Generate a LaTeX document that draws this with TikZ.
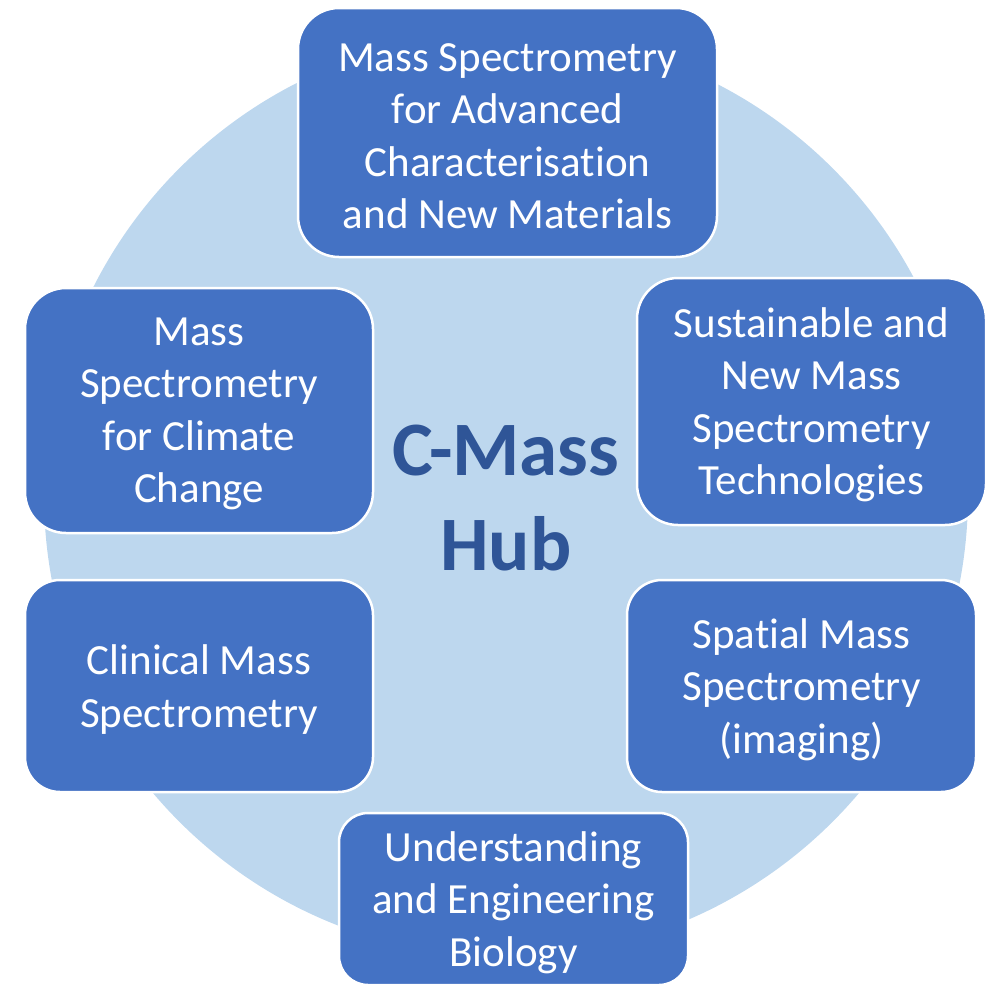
\documentclass[tikz,border=0pt]{standalone}
\usepackage{fontspec}
\setmainfont{Carlito}[Ligatures=NoCommon]
\usepackage{tikz}
\usetikzlibrary{backgrounds,%
                positioning,%
                shapes.misc,%
                calc
              }
\definecolor{hubcircle}{HTML}{BDD7EE}
\definecolor{hubbox}{HTML}{4472C4}
\definecolor{hubtext}{HTML}{2F5597}
\def\hubtopics{%  \cx/\cy/\bw/\bh/\brad/\tname/\ttext
  {507.5/132.5/419/249/41/adv/{Mass Spectrometry\\for Advanced\\Characterisation\\and New Materials}},%
  {811.5/401.5/349/247/41/sust/{Sustainable and\\New Mass\\Spectrometry\\Technologies}},%
  {801.5/686/349/212/35/spat/{Spatial Mass\\Spectrometry\\(imaging)}},%
  {513.5/899/349/172/29/bio/{Understanding\\and Engineering\\Biology}},%
  {199/686/348/212/35/clin/{Clinical Mass\\Spectrometry}},%
  {199/410.5/348/245/41/clim/{Mass\\Spectrometry\\for Climate\\Change}}%
}

\begin{document}
\begin{tikzpicture}[x=1pt,y=-1pt,
    topicbox/.style={rectangle, fill=hubbox, draw=white, line width=2.5pt,
      inner sep=0pt},
    topictext/.style={text=white, align=center, inner sep=0pt,
      font=\fontsize{43}{52.5}\selectfont}]%

  \useasboundingbox (0,0) rectangle (997,986);%

  % background disc
  \fill[hubcircle] (506,495) circle[radius=462];%

  \node[text=hubtext, align=center, font=\fontsize{77}{95}\selectfont\bfseries]
    (hub) at (506,498) {C-Mass\\Hub};%

  \foreach \cx/\cy/\bw/\bh/\brad/\tname/\ttext in \hubtopics {%
    \node[topicbox, rounded corners=\brad pt,%
          minimum width=\bw pt, minimum height=\bh pt]%
      (\tname) at (\cx,\cy) {};%
    \node[topictext, yshift=-3.5pt] (\tname txt) at (\tname) {\ttext};%
  }

\end{tikzpicture}
\end{document}
